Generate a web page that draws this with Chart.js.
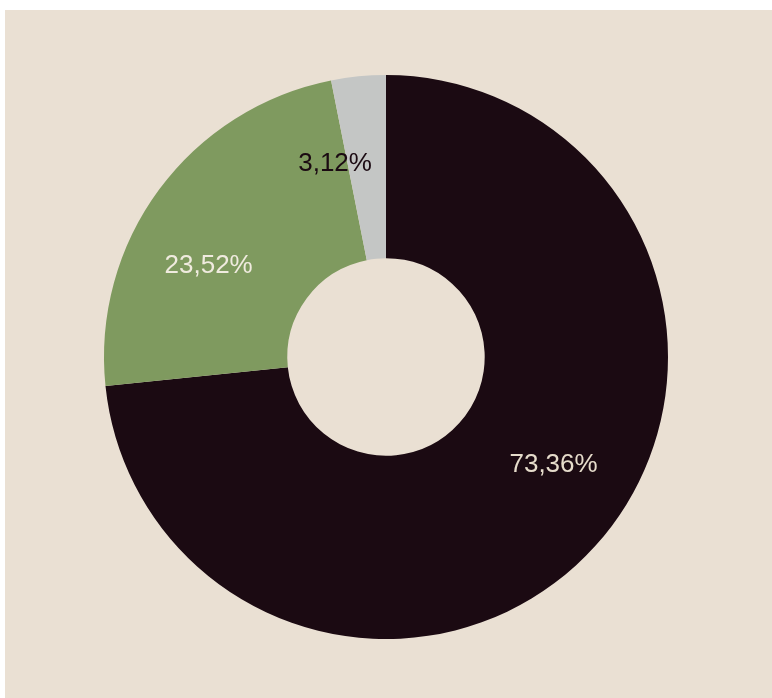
<!DOCTYPE html>
<html>
<head>
<meta charset="utf-8">
<script src="https://cdn.jsdelivr.net/npm/chart.js@4/dist/chart.umd.min.js"></script>
<style>
  html, body { margin: 0; padding: 0; background: #ffffff; }
  #wrap { position: absolute; left: 5px; top: 10px; width: 767px; height: 688px; background: #eae0d3; }
</style>
</head>
<body>
<div id="wrap"><canvas id="doughnut" width="767" height="688"></canvas></div>
<script>
// slices, clockwise from the top
const labels = ['A', 'B', 'C'];
const shares = [73.36, 23.52, 3.12];
const sliceColors = ['#1b0a12', '#7f9a5f', '#c4c6c5'];
const labelColors = ['#e6dccb', '#f0ebdf', '#1b0a12'];

// writes the percentage inside each slice
const sliceLabels = {
  id: 'sliceLabels',
  afterDatasetsDraw(chart) {
    const ctx = chart.ctx;
    const meta = chart.getDatasetMeta(0);
    ctx.save();
    ctx.font = '26px "Liberation Sans", Arial, sans-serif';
    ctx.textAlign = 'center';
    ctx.textBaseline = 'middle';
    meta.data.forEach((arc, i) => {
      const p = arc.getProps(['x', 'y', 'startAngle', 'endAngle', 'innerRadius', 'outerRadius']);
      const a = (p.startAngle + p.endAngle) / 2 - 0.16;
      const r = p.innerRadius + (p.outerRadius - p.innerRadius) * 0.55;
      ctx.fillStyle = labelColors[i];
      ctx.fillText(shares[i].toFixed(2).replace('.', ',') + '%', p.x + Math.cos(a) * r, p.y + Math.sin(a) * r);
    });
    ctx.restore();
  }
};

const ctx = document.getElementById('doughnut').getContext('2d');
const chart = new Chart(ctx, {
  type: 'doughnut',
  data: {
    labels: labels,
    datasets: [{
      data: shares,
      backgroundColor: sliceColors,
      borderWidth: 0
    }]
  },
  options: {
    responsive: false,
    animation: false,
    cutout: '35%',
    layout: { padding: { left: 99, right: 104, top: 65, bottom: 59 } },
    plugins: {
      legend: { display: false },
      tooltip: { enabled: false }
    }
  },
  plugins: [sliceLabels]
});
</script>
</body>
</html>
